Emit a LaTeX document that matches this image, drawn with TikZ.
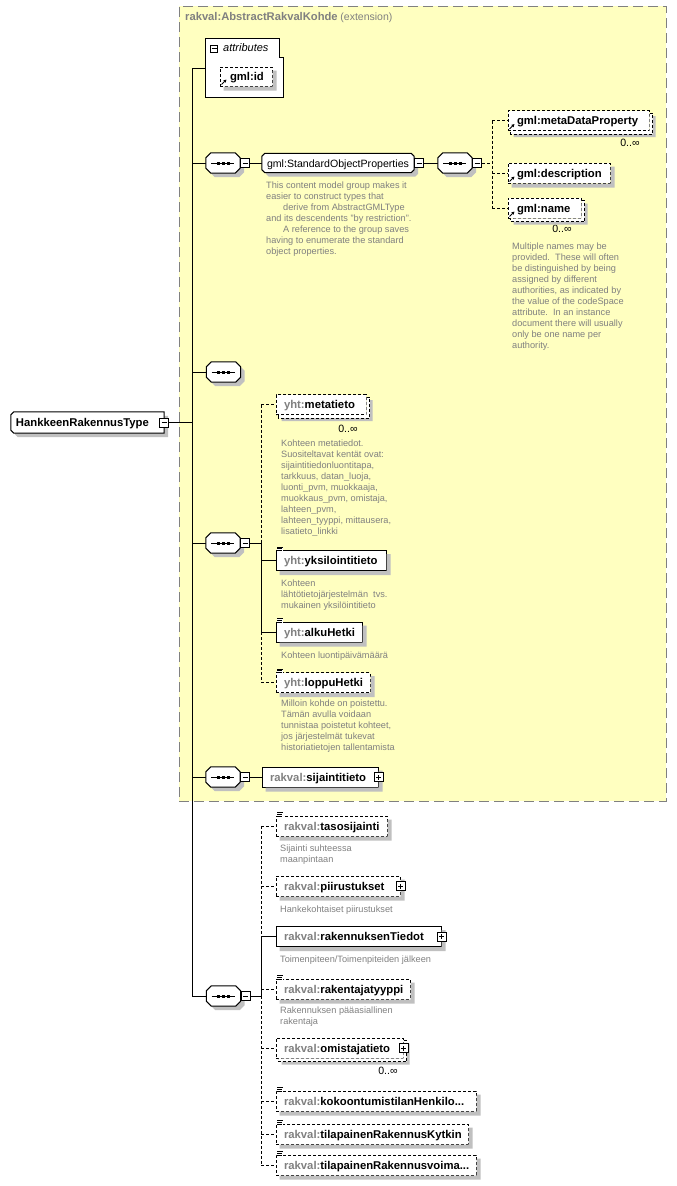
\documentclass[tikz,border=0pt]{standalone}
\usepackage{fontspec}
\setmainfont{Liberation Sans}
\usetikzlibrary{arrows.meta}
\pgfdeclarelayer{background}
\pgfdeclarelayer{shadow}
\pgfdeclarelayer{shapes}
\pgfsetlayers{background,shadow,shapes,main}
\definecolor{bgyellow}{RGB}{255,255,192}
\definecolor{framegray}{RGB}{128,128,128}
\definecolor{pfxgray}{RGB}{128,128,128}
\definecolor{descgray}{RGB}{128,128,128}
\definecolor{shadowgray}{RGB}{192,192,192}
\newcommand\pfx[1]{\textcolor{pfxgray}{#1}}
% octagon outline round a node: #1 node, #2 chamfer, #3 shift
\newcommand\octo[3]{([shift={#3},xshift=#2]#1.north west) -- ([shift={#3},xshift=-#2]#1.north east)
  -- ([shift={#3},yshift=-#2]#1.north east) -- ([shift={#3},yshift=#2]#1.south east)
  -- ([shift={#3},xshift=-#2]#1.south east) -- ([shift={#3},xshift=#2]#1.south west)
  -- ([shift={#3},yshift=#2]#1.south west) -- ([shift={#3},yshift=-#2]#1.north west) -- cycle}
% outline with the two left corners cut
\newcommand\lefto[3]{([shift={#3},xshift=#2]#1.north west) -- ([shift={#3}]#1.north east)
  -- ([shift={#3}]#1.south east) -- ([shift={#3},xshift=#2]#1.south west)
  -- ([shift={#3},yshift=#2]#1.south west) -- ([shift={#3},yshift=-#2]#1.north west) -- cycle}
% L-shaped visible part of a box shifted by #2 behind node #1
\newcommand\lpath[2]{([yshift=-#2]#1.north east) -- ([shift={(#2,-#2)}]#1.north east)
  -- ([shift={(#2,-#2)}]#1.south east) -- ([shift={(#2,-#2)}]#1.south west)
  -- ([xshift=#2]#1.south west) -- (#1.south east) -- cycle}
\newcommand\backo[2]{([yshift=-#2]#1.north east) -- ([shift={(#2,-#2)}]#1.north east)
  -- ([shift={(#2,-#2)}]#1.south east) -- ([shift={(#2,-#2)}]#1.south west)
  -- ([xshift=#2]#1.south west)}
\tikzset{
  lw/.style={line width=1pt},
  elem/.style={draw, fill=white, lw, inner xsep=8pt, inner ysep=0pt, minimum height=20pt,
               text height=9pt, text depth=1pt, align=left, font=\fontsize{11.3}{13}\selectfont\bfseries},
  optbox/.style={dash pattern=on 3pt off 2pt},
  seqbox/.style={minimum width=34pt, minimum height=20pt, inner sep=0pt},
  grp/.style={inner xsep=5pt, inner ysep=0pt, minimum height=19pt,
               text height=9pt, text depth=1pt, align=left, font=\fontsize{10.6}{13}\selectfont},
  ctype/.style={inner xsep=5pt, inner ysep=0pt, minimum height=21pt,
               text height=9pt, text depth=1pt, align=left, font=\fontsize{11.3}{13}\selectfont\bfseries},
  outline/.style={lw, draw=black, fill=white},
  shadowfill/.style={fill=shadowgray, draw=none},
  pm/.style={draw, fill=white, lw, minimum size=9pt, inner sep=0pt},
  conn/.style={lw},
  optconn/.style={lw, dash pattern=on 3pt off 2pt},
  desc/.style={anchor=north west, inner sep=0pt, align=left, text=descgray, font=\fontsize{9.2}{11}\selectfont},
  mult/.style={inner sep=0pt, font=\fontsize{10.6}{13}\selectfont},
  extframe/.style={fill=bgyellow, draw=framegray, lw, dash pattern=on 10pt off 5pt, inner sep=0pt},
}
\begin{document}
\begin{tikzpicture}[x=1pt,y=-1pt]
\useasboundingbox (0,0) rectangle (677,1186);
\begin{pgfonlayer}{background}
  \node[extframe, minimum width=487pt, minimum height=795pt] (ext) at (422.5,403.5) {};
\end{pgfonlayer}
\node[anchor=west, inner sep=0pt, text=pfxgray] (extT) at (185,18)
  {{\fontsize{11.2}{13}\selectfont\bfseries rakval:AbstractRakvalKohde} {\fontsize{10.5}{13}\selectfont(extension)}};

% attributes
\node[minimum width=77pt, minimum height=59pt, inner sep=0pt] (attrs) at (244.5,68) {};
\draw[outline] (attrs.north west) -- ([xshift=-4pt]attrs.north east) -- ([xshift=-4pt, yshift=-19pt]attrs.north east)
  -- ([yshift=-19pt]attrs.north east) -- (attrs.south east) -- (attrs.south west) -- cycle;
\node[pm, minimum size=7pt] (mA) at (214,48.5) {};
\node[anchor=west, inner sep=0pt, font=\fontsize{11}{13}\selectfont\itshape] (attrT) at (223,48) {attributes};
\node[elem, optbox, inner xsep=10pt, text width=32pt, minimum height=19pt] (gid) at (246,76.5) {gml:id};

% root type
\node[ctype, text width=143pt] (H) at (87.5,422.5) {HankkeenRakennusType};
\begin{pgfonlayer}{shadow}\fill[shadowfill] \lefto{H}{3pt}{(4pt,-4pt)};\end{pgfonlayer}
\begin{pgfonlayer}{shapes}\draw[outline] \lefto{H}{3pt}{(0pt,0pt)};\end{pgfonlayer}
\node[pm] (mH) at (H.east) {};

% sequences and group
\node[seqbox] (s1) at (223,163) {};
\node[grp, text width=142pt] (sop) at (338,163) {gml:StandardObjectProperties};
\node[seqbox] (s2) at (455,163) {};
\node[seqbox] (s3) at (223.5,372) {};
\node[seqbox] (s4) at (223,543) {};
\node[seqbox] (s5) at (223,777) {};
\node[seqbox] (s6) at (223.5,996) {};
\foreach \n in {s1,s2,s3,s4,s5,s6}{
  \begin{pgfonlayer}{shadow}\fill[shadowfill] \octo{\n}{5pt}{(4pt,-4pt)};\end{pgfonlayer}
  \begin{pgfonlayer}{shapes}\draw[outline] \octo{\n}{5pt}{(0pt,0pt)};\end{pgfonlayer}
  \draw[lw] ([xshift=-12pt]\n.center) -- ([xshift=11pt]\n.center);
  \foreach \d in {-5,0,5} \fill ([xshift=\d pt]\n.center) ++(-1.5,-1.5) rectangle ++(3,3);}
\begin{pgfonlayer}{shadow}\fill[shadowfill] \octo{sop}{3pt}{(4pt,-4pt)};\end{pgfonlayer}
\begin{pgfonlayer}{shapes}\draw[outline] \octo{sop}{3pt}{(0pt,0pt)};\end{pgfonlayer}
\node[pm, anchor=west] (m1) at (s1.east) {};
\node[pm, anchor=west] (msop) at (sop.east) {};
\node[pm, anchor=west] (m2) at (s2.east) {};
\node[pm, anchor=west] (m4) at (s4.east) {};
\node[pm, anchor=west] (m5) at (s5.east) {};
\node[pm, anchor=west] (m6) at (s6.east) {};

% gml elements
\node[elem, optbox, inner xsep=9pt, text width=123pt] (mdp) at (578.5,120.5) {gml:metaDataProperty};
\node[mult] (mdpN) at (630,143) {0..∞};
\node[elem, optbox, inner xsep=9pt, text width=84pt] (gdesc) at (559,173) {gml:description};
\node[elem, optbox, inner xsep=9pt, text width=55pt] (gname) at (544.5,208) {gml:name};
\node[mult] (gnameN) at (562,229) {0..∞};

% yht elements
\node[elem, optbox, text width=74pt] (meta) at (321,404.5) {\pfx{yht:}metatieto};
\node[mult] (metaN) at (348,429) {0..∞};
\node[elem, text width=94pt] (yks) at (331,560.5) {\pfx{yht:}yksilointitieto};
\node[elem, text width=70pt] (alku) at (319,632) {\pfx{yht:}alkuHetki};
\node[elem, optbox, text width=78pt] (loppu) at (323,682.5) {\pfx{yht:}loppuHetki};
\node[elem, text width=100pt] (sij) at (320,777) {\pfx{rakval:}sijaintitieto};

% rakval elements
\node[elem, optbox, text width=95pt] (taso) at (331.5,826) {\pfx{rakval:}tasosijainti};
\node[elem, optbox, text width=108pt] (piir) at (338,886) {\pfx{rakval:}piirustukset};
\node[elem, text width=149pt] (rakT) at (358.5,936.5) {\pfx{rakval:}rakennuksenTiedot};
\node[elem, optbox, text width=118pt] (rakty) at (343,989) {\pfx{rakval:}rakentajatyyppi};
\node[elem, optbox, text width=111pt] (omis) at (339.5,1048) {\pfx{rakval:}omistajatieto};
\node[mult] (omisN) at (388,1071) {0..∞};
\node[elem, optbox, text width=184pt] (koko) at (376,1101) {\pfx{rakval:}kokoontumistilanHenkilo...};
\node[elem, optbox, text width=176pt] (kyt) at (372,1134) {\pfx{rakval:}tilapainenRakennusKytkin};
\node[elem, optbox, text width=184pt] (voima) at (376,1165) {\pfx{rakval:}tilapainenRakennusvoima...};

% shadows of the element boxes (visible L-shaped part only)
\foreach \n in {gid,gdesc,yks,alku,loppu,sij,taso,piir,rakT,rakty,koko,kyt,voima}
  \fill[shadowfill] \lpath{\n}{4pt};
\foreach \n in {mdp,gname,meta,omis}{
  \fill[shadowfill] \lpath{\n}{6pt};
  \fill[white] \lpath{\n}{3pt};
  \draw[lw, optbox] \backo{\n}{3pt};}

% plus boxes
\node[pm] (pSij) at (sij.east) {};
\node[pm] (pPiir) at (piir.east) {};
\node[pm] (pRakT) at (rakT.east) {};
\node[pm] (pOmis) at (omis.east) {};

% descriptions
\node[desc] (dSop) at (266,181.5) {This content model group makes it\\easier to construct types that\\\hspace*{17pt}derive from AbstractGMLType\\and its descendents "by restriction".\\\hspace*{17pt}A reference to the group saves\\having to enumerate the standard\\object properties.};
\node[desc] (dName) at (512,242.5) {Multiple names may be\\provided.\ \ These will often\\be distinguished by being\\assigned by different\\authorities, as indicated by\\the value of the codeSpace\\attribute.\ \ In an instance\\document there will usually\\only be one name per\\authority.};
\node[desc] (dMeta) at (281,439.5) {Kohteen metatiedot.\\Suositeltavat kentät ovat:\\sijaintitiedonluontitapa,\\tarkkuus, datan\_luoja,\\luonti\_pvm, muokkaaja,\\muokkaus\_pvm, omistaja,\\lahteen\_pvm,\\lahteen\_tyyppi, mittausera,\\lisatieto\_linkki};
\node[desc] (dYks) at (281,579.5) {Kohteen\\lähtötietojärjestelmän\ \ tvs.\\mukainen yksilöintitieto};
\node[desc] (dAlku) at (281,651.5) {Kohteen luontipäivämäärä};
\node[desc] (dLoppu) at (281,699.5) {Milloin kohde on poistettu.\\Tämän avulla voidaan\\tunnistaa poistetut kohteet,\\jos järjestelmät tukevat\\historiatietojen tallentamista};
\node[desc] (dTaso) at (280,844.5) {Sijainti suhteessa\\maanpintaan};
\node[desc] (dPiir) at (280,905.5) {Hankekohtaiset piirustukset};
\node[desc] (dRakT) at (280,955.5) {Toimenpiteen/Toimenpiteiden jälkeen};
\node[desc] (dRakty) at (280,1006.5) {Rakennuksen pääasiallinen\\rakentaja};

% minus / plus marks
\foreach \n in {mA,mH,m1,msop,m2,m4,m5,m6}
  \draw[lw] ([xshift=-2.5pt]\n.center) -- ([xshift=2.5pt]\n.center);
\foreach \n in {pSij,pPiir,pRakT,pOmis}{
  \draw[lw] ([xshift=-2.5pt]\n.center) -- ([xshift=2.5pt]\n.center);
  \draw[lw] ([yshift=-2.5pt]\n.center) -- ([yshift=2.5pt]\n.center);}
% reference arrows
\foreach \n in {gid,mdp,gdesc,gname}
  \draw[line width=0.8pt, -{Triangle[length=3pt,width=3pt]}] ([shift={(2pt,2pt)}]\n.south west) -- ++(5,-5);
% simple-content icons
\foreach \n in {yks,alku,loppu,taso,rakty,koko,kyt,voima}{
  \fill[white] ([shift={(1pt,3.5pt)}]\n.north west) rectangle ([shift={(7.5pt,-1pt)}]\n.north west);
  \draw[line width=0.7pt] ([shift={(1.5pt,3pt)}]\n.north west) -- ++(6,0);
  \draw[line width=0.7pt] ([shift={(1.5pt,1.3pt)}]\n.north west) -- ++(4.5,0);
  \draw[line width=0.7pt] ([shift={(1.5pt,-0.4pt)}]\n.north west) -- ++(4.5,0);}

% connectors
\coordinate (tTop) at (192,68);
\coordinate (tBot) at (192,996);
\coordinate (v2) at (492,163);
\coordinate (v4) at (261,543);
\coordinate (v6) at (261,996);
\begin{pgfonlayer}{background}
  \draw[conn] (tTop) -- (tBot);
  \draw[conn] (tTop) -- (attrs.west);
  \draw[conn] (mH.east) -- (mH.east -| tTop);
  \draw[conn] (s1.west -| tTop) -- (s1.west);
  \draw[conn] (m1.east) -- (sop.west);
  \draw[conn] (msop.east) -- (s2.west);
  \draw[optconn] (m2.east) -- (v2);
  \draw[optconn] (v2 |- mdp.west) -- (v2 |- gname.west);
  \draw[optconn] (v2 |- mdp.west) -- (mdp.west);
  \draw[optconn] (v2 |- gdesc.west) -- (gdesc.west);
  \draw[optconn] (v2 |- gname.west) -- (gname.west);
  \draw[conn] (s3.west -| tTop) -- (s3.west);
  \draw[conn] (s4.west -| tTop) -- (s4.west);
  \draw[conn] (m4.east) -- (v4);
  \draw[optconn] (v4 |- meta.west) -- (v4);
  \draw[conn] (v4) -- (v4 |- alku.west);
  \draw[optconn] (v4 |- alku.west) -- (v4 |- loppu.west);
  \draw[optconn] (v4 |- meta.west) -- (meta.west);
  \draw[conn] (v4 |- yks.west) -- (yks.west);
  \draw[conn] (v4 |- alku.west) -- (alku.west);
  \draw[optconn] (v4 |- loppu.west) -- (loppu.west);
  \draw[conn] (s5.west -| tTop) -- (s5.west);
  \draw[conn] (m5.east) -- (sij.west);
  \draw[conn] (tBot) -- (s6.west);
  \draw[conn] (m6.east) -- (v6);
  \draw[optconn] (v6 |- taso.west) -- (v6 |- rakT.west);
  \draw[conn] (v6 |- rakT.west) -- (v6);
  \draw[optconn] (v6) -- (v6 |- voima.west);
  \draw[optconn] (v6 |- taso.west) -- (taso.west);
  \draw[optconn] (v6 |- piir.west) -- (piir.west);
  \draw[conn] (v6 |- rakT.west) -- (rakT.west);
  \draw[optconn] (v6 |- rakty.west) -- (rakty.west);
  \draw[optconn] (v6 |- omis.west) -- (omis.west);
  \draw[optconn] (v6 |- koko.west) -- (koko.west);
  \draw[optconn] (v6 |- kyt.west) -- (kyt.west);
  \draw[optconn] (v6 |- voima.west) -- (voima.west);
\end{pgfonlayer}
\end{tikzpicture}
\end{document}
